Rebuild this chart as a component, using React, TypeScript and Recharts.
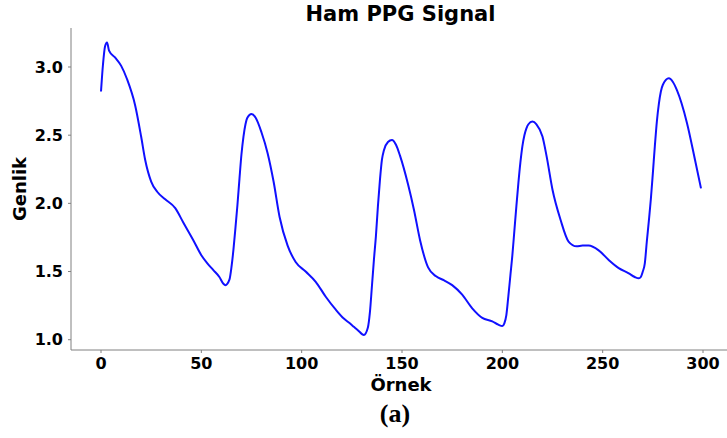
import { LineChart, Line, XAxis, YAxis } from 'recharts';

// sample index and amplitude
const sampleIdx = [
  0, 1, 2, 3, 4, 7, 10, 13, 17, 20, 22, 25, 28, 32, 37, 41, 46, 50, 53, 56, 59, 61, 62, 64, 65, 66, 67, 68, 69, 70,
  71, 72, 73, 75, 77, 80, 83, 86, 89, 93, 97, 102, 107, 112, 117, 121, 124, 126, 128, 131, 133, 134, 135, 136, 137,
  138, 139, 140, 141, 143, 145, 147, 149, 153, 156, 159, 163, 167, 171, 175, 180, 185, 190, 195, 198, 200, 201, 202,
  203, 204, 205, 206, 207, 208, 209, 210, 211, 212, 213, 215, 217, 220, 222, 225, 229, 233, 237, 240, 243, 248, 253,
  258, 263, 266, 268, 269, 270, 271, 272, 273, 274, 275, 276, 277, 278, 279, 280, 283, 285, 287, 292, 296, 299,
];
const amplitude = [
  2.82, 3.02, 3.15, 3.18, 3.12, 3.07, 3.01, 2.91, 2.72, 2.49, 2.32, 2.16, 2.085, 2.03, 1.965, 1.86, 1.73, 1.62, 1.56,
  1.51, 1.46, 1.41, 1.4, 1.44, 1.53, 1.66, 1.82, 1.99, 2.18, 2.36, 2.49, 2.58, 2.63, 2.655, 2.63, 2.52, 2.37, 2.16,
  1.9, 1.69, 1.57, 1.5, 1.425, 1.315, 1.22, 1.155, 1.12, 1.095, 1.07, 1.035, 1.09, 1.2, 1.39, 1.585, 1.76, 1.98, 2.17,
  2.32, 2.39, 2.45, 2.465, 2.43, 2.35, 2.14, 1.95, 1.73, 1.53, 1.465, 1.435, 1.4, 1.33, 1.23, 1.16, 1.135, 1.11, 1.1,
  1.12, 1.18, 1.32, 1.47, 1.62, 1.8, 1.98, 2.15, 2.3, 2.42, 2.5, 2.55, 2.58, 2.6, 2.58, 2.49, 2.35, 2.1, 1.88, 1.72,
  1.685, 1.69, 1.69, 1.655, 1.585, 1.525, 1.487, 1.46, 1.45, 1.46, 1.5, 1.56, 1.72, 1.87, 2.03, 2.22, 2.42, 2.6, 2.73,
  2.82, 2.87, 2.917, 2.89, 2.83, 2.59, 2.32, 2.11,
];
const xTicks = [0, 50, 100, 150, 200, 250, 300];
const yTicks = [1.0, 1.5, 2.0, 2.5, 3.0];

const data = sampleIdx.map((x, i) => ({ x, y: amplitude[i] }));

const sans = 'DejaVu Sans';
const axisGray = '#808080';
const tickStyle = { fill: '#000', fontSize: 16, fontWeight: 'bold', fontFamily: sans };

export default function App() {
  return (
    <div style={{ position: 'fixed', left: 0, top: 0, width: 727, height: 438, overflow: 'hidden', background: '#fff' }}>
      <LineChart width={740} height={438} data={data} margin={{ top: 28, right: 9, left: 0, bottom: 58 }}>
        <XAxis
          dataKey="x"
          type="number"
          domain={[-14.95, 313.95]}
          ticks={xTicks}
          allowDataOverflow
          stroke={axisGray}
          tickSize={3}
          tickMargin={5}
          height={30}
          tick={tickStyle}
        />
        <XAxis xAxisId="top" orientation="top" dataKey="x" type="number" domain={[-14.95, 313.95]} tick={false} tickLine={false} height={0} stroke={axisGray} />
        <YAxis
          type="number"
          domain={[0.9245, 3.286]}
          ticks={yTicks}
          allowDataOverflow
          stroke={axisGray}
          tickSize={3}
          tickMargin={5}
          width={71}
          tick={tickStyle}
          tickFormatter={(v: number) => v.toFixed(1)}
        />
        <Line type="monotone" dataKey="y" stroke="#1010ff" strokeWidth={2} dot={false} isAnimationActive={false} />
      </LineChart>
      <div style={{ position: 'absolute', left: 400.5, top: 14, transform: 'translate(-50%, -50%)', fontFamily: sans, fontWeight: 'bold', fontSize: 21, whiteSpace: 'nowrap' }}>
        Ham PPG Signal
      </div>
      <div style={{ position: 'absolute', left: 19, top: 189, transform: 'translate(-50%, -50%) rotate(-90deg)', fontFamily: sans, fontWeight: 'bold', fontSize: 18, whiteSpace: 'nowrap' }}>
        Genlik
      </div>
      <div style={{ position: 'absolute', left: 401, top: 384, transform: 'translate(-50%, -50%)', fontFamily: sans, fontWeight: 'bold', fontSize: 18, whiteSpace: 'nowrap' }}>
        Örnek
      </div>
      <div style={{ position: 'absolute', left: 395, top: 414, transform: 'translate(-50%, -50%)', fontFamily: '"Liberation Serif", serif', fontWeight: 'bold', fontSize: 26, whiteSpace: 'nowrap' }}>
        (a)
      </div>
    </div>
  );
}
